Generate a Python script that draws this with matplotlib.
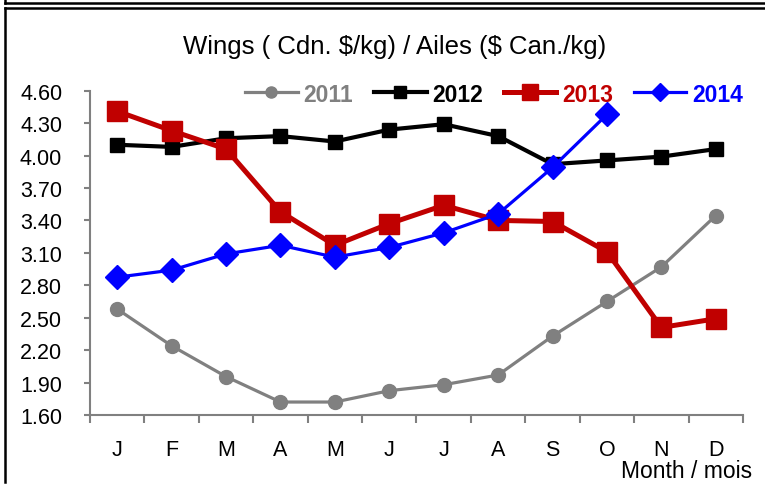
import matplotlib
matplotlib.use("Agg")
import matplotlib.pyplot as plt
from matplotlib.lines import Line2D

months = ["J", "F", "M", "A", "M", "J", "J", "A", "S", "O", "N", "D"]
y2011 = [2.58, 2.24, 1.955, 1.72, 1.72, 1.825, 1.88, 1.97, 2.33, 2.65, 2.97, 3.445]
y2012 = [4.10, 4.08, 4.16, 4.18, 4.13, 4.24, 4.29, 4.18, 3.92, 3.955, 3.99, 4.06]
y2013 = [4.41, 4.23, 4.06, 3.48, 3.17, 3.37, 3.54, 3.40, 3.39, 3.11, 2.41, 2.49]
y2014 = [2.875, 2.94, 3.09, 3.17, 3.06, 3.15, 3.285, 3.46, 3.89, 4.38]
yticks = [1.60, 1.90, 2.20, 2.50, 2.80, 3.10, 3.40, 3.70, 4.00, 4.30, 4.60]
title = "Wings ( Cdn. $/kg) / Ailes ($ Can./kg)"
xlabel = "Month / mois"

plt.rcParams['font.family'] = ['Liberation Sans', 'DejaVu Sans']

W, H = 765, 485
fig = plt.figure(figsize=(W / 100, H / 100), dpi=100)
ax = fig.add_axes([90 / W, (H - 416) / H, (743 - 90) / W, (416 - 91.7) / H])

x = list(range(12))
GRAY = "#808080"
RED = "#C00000"
BLUE = "#0000FF"

l11, = ax.plot(x[:len(y2011)], y2011, color=GRAY, lw=2.3, marker="o", ms=10,
               label="2011", zorder=3)
l12, = ax.plot(x[:len(y2012)], y2012, color="black", lw=3, marker="s", ms=10,
               label="2012", zorder=4)
l13, = ax.plot(x[:len(y2013)], y2013, color=RED, lw=3.6, marker="s", ms=14.5,
               label="2013", zorder=5)
l14, = ax.plot(x[:len(y2014)], y2014, color=BLUE, lw=2.3, marker="D", ms=12,
               label="2014", zorder=6)

ax.set_xlim(-0.5, 11.5)
ax.set_ylim(1.6, 4.6)
ax.set_yticks(yticks)
ax.set_yticklabels([f"{v:.2f}" for v in yticks], fontsize=15.5)

ax.set_xticks([i - 0.5 for i in range(13)])
ax.set_xticklabels([])
ax.set_xticks(x, minor=True)
ax.set_xticklabels(months, minor=True, fontsize=15.5)
ax.tick_params(axis="x", which="major", length=6, color=GRAY, width=1.5)
ax.tick_params(axis="x", which="minor", length=0, pad=17)
ax.tick_params(axis="y", length=4, color=GRAY, width=1.5, pad=16)

for s in ["top", "right"]:
    ax.spines[s].set_visible(False)
for s in ["left", "bottom"]:
    ax.spines[s].set_color(GRAY)
    ax.spines[s].set_linewidth(1.5)

fig.text(395 / W, 1 - 47 / H, title, ha="center", va="center", fontsize=18.5,
         parse_math=False)
fig.text(752 / W, 1 - 472 / H, xlabel, ha="right", va="center", fontsize=16.5)

leg = ax.legend(handles=[l11, l12, l13, l14], loc="center right",
                bbox_to_anchor=(743 / W, 1 - 95 / H), bbox_transform=fig.transFigure,
                ncol=4, frameon=False, handlelength=2.3, borderaxespad=0,
                borderpad=0, columnspacing=0.9, handletextpad=0.25,
                markerscale=0.8, prop={"weight": "bold", "size": 16.5})
for txt, col in zip(leg.get_texts(), [GRAY, "black", RED, BLUE]):
    txt.set_color(col)

# outer borders
def fline(xs, ys):
    fig.add_artist(Line2D([v / W for v in xs], [1 - v / H for v in ys],
                          color="black", lw=1.8, transform=fig.transFigure))

fline([5, 765], [3.5, 3.5])
fline([5, 5], [0, 3.5])
fline([5, 765], [8.5, 8.5])
fline([5, 5], [8.5, 483])

fig.savefig("out.png", dpi=100)
